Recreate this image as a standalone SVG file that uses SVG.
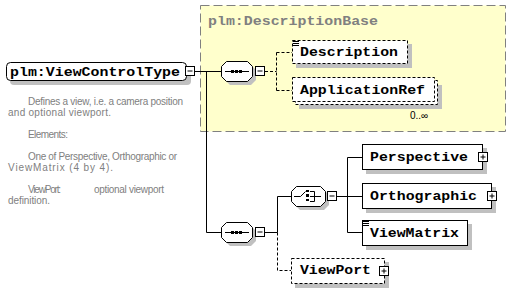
<svg xmlns="http://www.w3.org/2000/svg" width="512" height="289" viewBox="0 0 512 289">
<style>
.shadow{fill:#c0c0c0;stroke:none}
.box{fill:#fff;stroke:#000;stroke-width:1}
.opt{fill:#fff;stroke:#000;stroke-width:1;stroke-dasharray:3,2}
.lbl{font-family:"Liberation Mono","DejaVu Sans Mono",monospace;font-weight:bold;font-size:13px;fill:#000}
.note{font-family:"Liberation Sans",Arial,sans-serif;font-size:10px;fill:#808080}
.ln{stroke:#000;stroke-width:1;fill:none}
.dln{stroke:#000;stroke-width:1;fill:none;stroke-dasharray:3,2}
.btn{fill:#fff;stroke:#000;stroke-width:1}
</style>
<defs>
<g id="minus"><rect class="btn" x="0.5" y="0.5" width="9" height="9"/><path class="ln" d="M2.5,5 H7.5"/></g>
<g id="plus"><rect class="btn" x="0.5" y="0.5" width="9" height="9"/><path class="ln" d="M2.5,5 H7.5 M5,2.5 V7.5"/></g>
<g id="simple"><path class="ln" d="M1,1.5 H7 M1,3.5 H7 M1,5.5 H7"/></g>
</defs>

<g id="DescriptionBase">
<rect x="200.5" y="5.5" width="305" height="126" fill="#ffffcc" stroke="#808080" stroke-width="1" stroke-dasharray="9,4"/>
<text x="208" y="25" class="lbl" style="fill:#808080" textLength="170" lengthAdjust="spacingAndGlyphs">plm:DescriptionBase</text>
</g>

<g id="connectors">
<path class="ln" d="M195,71.5 H221 M206.5,71.5 V232.5 H221"/>
<path class="ln" d="M252,71.5 H256"/>
<path class="dln" d="M265,71.5 H276.5 M276.5,52.5 V90.5 M276.5,52.5 H292 M276.5,90.5 H292"/>
<path class="ln" d="M252,232.5 H256 M265,232.5 H277.5 M277.5,196.5 V232.5 M277.5,196.5 H291"/>
<path class="dln" d="M277.5,232.5 V270.5 H291"/>
<path class="ln" d="M325,196.5 H328 M337,196.5 H347.5 M347.5,157.5 V232.5 M347.5,157.5 H362 M347.5,196.5 H362 M347.5,232.5 H362"/>
</g>

<g id="ViewControlType">
<rect class="shadow" x="10" y="66" width="181" height="19" rx="4"/>
<rect class="box" x="6.5" y="62.5" width="180" height="18" rx="4"/>
<text x="10" y="76" class="lbl" textLength="170" lengthAdjust="spacingAndGlyphs">plm:ViewControlType</text>
<use href="#minus" x="185" y="66"/>
<text class="note" x="28" y="105" textLength="155" lengthAdjust="spacing">Defines a view, i.e. a camera position</text>
<text class="note" x="8" y="116" textLength="103" lengthAdjust="spacing">and optional viewport.</text>
<text class="note" x="28" y="138" textLength="40" lengthAdjust="spacing">Elements:</text>
<text class="note" x="28" y="160" textLength="149" lengthAdjust="spacing">One of Perspective, Orthographic or</text>
<text class="note" x="8" y="171" textLength="105" lengthAdjust="spacing">ViewMatrix (4 by 4).</text>
<text class="note" x="28" y="193" textLength="33" lengthAdjust="spacing">ViewPort:</text>
<text class="note" x="94" y="193" textLength="70" lengthAdjust="spacing">optional viewport</text>
<text class="note" x="8" y="204" textLength="42" lengthAdjust="spacing">definition.</text>
</g>

<g id="seq1">
<path class="shadow" d="M230,65 H251 L256,70 V80 L251,85 H230 L225,80 V70 Z"/>
<path class="box" d="M226.5,61.5 H247.5 L252.5,66.5 V76.5 L247.5,81.5 H226.5 L221.5,76.5 V66.5 Z"/>
<path class="ln" d="M225,71.5 H249"/>
<rect x="231" y="70" width="3" height="3"/><rect x="235" y="70" width="3" height="3"/><rect x="239" y="70" width="3" height="3"/>
<use href="#minus" x="255" y="66"/>
</g>

<g id="Description">
<rect class="shadow" x="296" y="44" width="116" height="24"/>
<rect class="opt" x="292.5" y="40.5" width="115" height="23"/>
<use href="#simple" x="292" y="40"/>
<text x="300" y="56" class="lbl" textLength="98" lengthAdjust="spacingAndGlyphs">Description</text>
</g>

<g id="ApplicationRef">
<rect class="shadow" x="299" y="85" width="143" height="24"/>
<rect class="opt" x="295.5" y="80.5" width="142" height="24"/>
<rect class="opt" x="292.5" y="77.5" width="142" height="24"/>
<text x="300" y="94" class="lbl" textLength="125" lengthAdjust="spacingAndGlyphs">ApplicationRef</text>
<text class="note" x="410" y="119" style="fill:#000">0..∞</text>
</g>

<g id="seq2">
<path class="shadow" d="M230,226 H251 L256,231 V241 L251,246 H230 L225,241 V231 Z"/>
<path class="box" d="M226.5,222.5 H247.5 L252.5,227.5 V237.5 L247.5,242.5 H226.5 L221.5,237.5 V227.5 Z"/>
<path class="ln" d="M225,232.5 H249"/>
<rect x="231" y="231" width="3" height="3"/><rect x="235" y="231" width="3" height="3"/><rect x="239" y="231" width="3" height="3"/>
<use href="#minus" x="255" y="227"/>
</g>

<g id="choice">
<path class="shadow" d="M300,190 H324 L329,195 V205 L324,210 H300 L295,205 V195 Z"/>
<path class="box" d="M296.5,186.5 H320.5 L325.5,191.5 V201.5 L320.5,206.5 H296.5 L291.5,201.5 V191.5 Z"/>
<path class="ln" d="M294,196.5 H300.5 L305.5,191.5"/>
<rect x="306" y="190" width="3" height="2"/><rect x="306" y="194" width="3" height="3"/><rect x="306" y="199" width="3" height="2"/>
<path class="ln" d="M310,191.5 H314.5 V201.5 H310 M310,196.5 H321"/>
<use href="#minus" x="327" y="191"/>
</g>

<g id="Perspective">
<rect class="shadow" x="366" y="148" width="121" height="26"/>
<rect class="box" x="362.5" y="144.5" width="120" height="25"/>
<text x="370" y="161" class="lbl" textLength="98" lengthAdjust="spacingAndGlyphs">Perspective</text>
<use href="#plus" x="478" y="152"/>
</g>

<g id="Orthographic">
<rect class="shadow" x="366" y="187" width="130" height="26"/>
<rect class="box" x="362.5" y="183.5" width="129" height="25"/>
<text x="370" y="200" class="lbl" textLength="107" lengthAdjust="spacingAndGlyphs">Orthographic</text>
<use href="#plus" x="487" y="191"/>
</g>

<g id="ViewMatrix">
<rect class="shadow" x="366" y="224" width="106" height="26"/>
<rect class="box" x="362.5" y="220.5" width="105" height="25"/>
<use href="#simple" x="362" y="220"/>
<text x="370" y="237" class="lbl" textLength="89" lengthAdjust="spacingAndGlyphs">ViewMatrix</text>
</g>

<g id="ViewPort">
<rect class="shadow" x="295" y="262" width="94" height="26"/>
<rect class="opt" x="291.5" y="258.5" width="93" height="25"/>
<text x="300" y="274" class="lbl" textLength="71" lengthAdjust="spacingAndGlyphs">ViewPort</text>
<use href="#plus" x="379" y="266"/>
</g>
</svg>
